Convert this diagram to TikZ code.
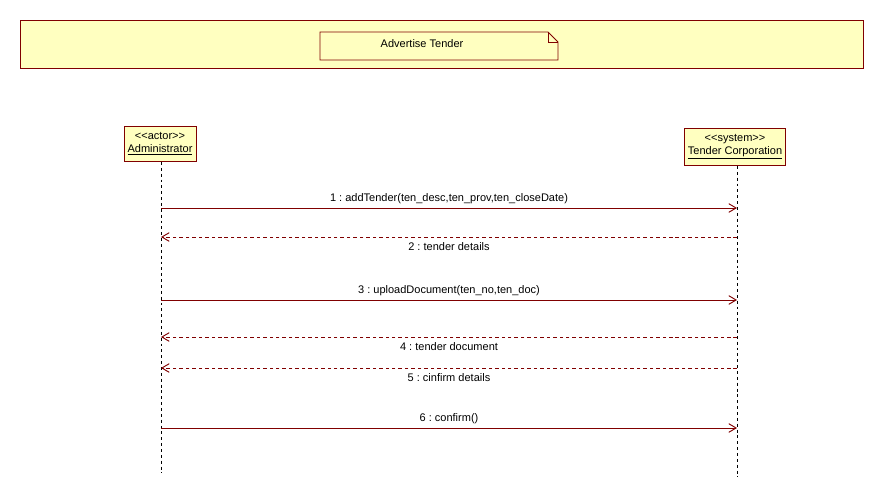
\documentclass[tikz,border=0pt]{standalone}
\usepackage{fontspec}
\setmainfont{Liberation Sans}
\usetikzlibrary{arrows.meta}
\definecolor{umlred}{RGB}{128,0,0}
\definecolor{umlfill}{RGB}{255,255,192}
\newcommand{\stereo}[1]{<\kern0pt<#1>\kern0pt>}
\frenchspacing
\begin{document}
\begin{tikzpicture}[x=0.03cm,y=-0.03cm,font=\fontsize{9.4}{11}\selectfont]
        \tikzstyle{obj}=[draw=umlred, fill=umlfill, line width=0.8pt, align=center, inner sep=2pt]
        \tikzstyle{life}=[black, line width=0.8pt, dash pattern=on 2.5pt off 2.5pt]
        \tikzstyle{msg}=[umlred, line width=0.8pt, -{Straight Barb[length=2.2mm,width=2.6mm]}]
        \tikzstyle{ret}=[msg, dash pattern=on 3pt off 2.5pt]

        \useasboundingbox (0,0) rectangle (884,497);

        \draw[draw=umlred, fill=umlfill, line width=0.8pt] (20,20) rectangle (863,68);
        \draw[draw=umlred, fill=umlfill, line width=0.8pt] (320,32) -- (548,32) -- (558,42) -- (558,60) -- (320,60) -- cycle;
        \draw[umlred, line width=0.6pt] (548,32) -- (548,42) -- (558,42);
        \node (title) at (422,44) {Advertise Tender};

        \node[obj, minimum width=72*0.03cm, minimum height=35*0.03cm] (admin) at (160,144) {\stereo{actor}\\\underline{Administrator}};
        \node[obj, minimum width=101*0.03cm, minimum height=37*0.03cm] (corp) at (735,147) {\stereo{system}\\\underline{Tender Corporation}};

        \coordinate (adminEnd) at (161,473);
        \coordinate (corpEnd) at (737,477);
        \draw[life] (admin.south -| adminEnd) -- (adminEnd);
        \draw[life] (corp.south -| corpEnd) -- (corpEnd);

        \coordinate (a1) at (161,208); \coordinate (c1) at (737,208);
        \coordinate (a2) at (161,237); \coordinate (c2) at (737,237);
        \coordinate (a3) at (161,300); \coordinate (c3) at (737,300);
        \coordinate (a4) at (161,337); \coordinate (c4) at (737,337);
        \coordinate (a5) at (161,368); \coordinate (c5) at (737,368);
        \coordinate (a6) at (161,428); \coordinate (c6) at (737,428);

        \draw[msg] (a1) -- node[above, black] {1 : addTender(ten\_desc,ten\_prov,ten\_closeDate)} (c1);
        \draw[ret] (c2) -- node[below=1pt, black] {2 : tender details} (a2);
        \draw[msg] (a3) -- node[above, black] {3 : uploadDocument(ten\_no,ten\_doc)} (c3);
        \draw[ret] (c4) -- node[below=1pt, black] {4 : tender document} (a4);
        \draw[ret] (c5) -- node[below=1pt, black] {5 : cinfirm details} (a5);
        \draw[msg] (a6) -- node[above, black] {6 : confirm()} (c6);
    \end{tikzpicture}
\end{document}
